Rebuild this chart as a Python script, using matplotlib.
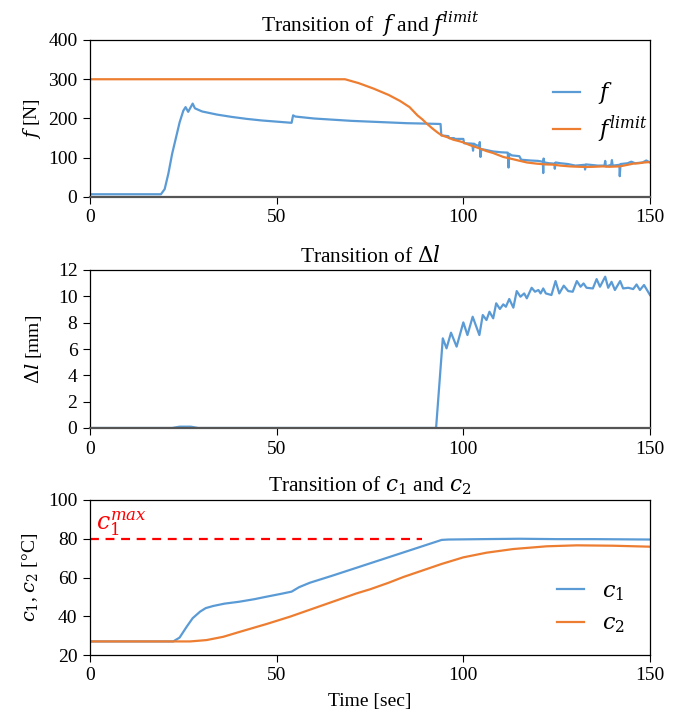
import matplotlib
matplotlib.use("Agg")
import matplotlib.pyplot as plt

plt.rcParams['font.family'] = ['Liberation Serif', 'DejaVu Serif']
plt.rcParams['mathtext.fontset'] = 'dejavuserif'

blue = '#5B9BD5'
orange = '#ED7D31'

# --- force f and its limit [N] ---
f_t = [0, 19, 20, 21, 22, 23, 24, 25, 25.6, 26.3, 27.5, 28.1, 30, 34, 38, 42, 46, 50, 54,
       54.4, 55, 60, 65, 70, 75, 80, 85, 90, 93.9, 94.1, 96, 96.2, 97.5, 97.7, 100, 100.2,
       102.4, 102.6, 102.8, 103.5, 104.3, 104.4, 104.6, 104.8, 106, 108, 110, 111.9, 112.1,
       112.3, 113, 115, 115.5, 118, 120, 121.3, 121.4, 121.5, 121.7, 123, 124.4, 124.5,
       124.7, 126, 128, 130, 132.5, 132.6, 132.8, 134, 136, 137.8, 138, 138.2, 139.6, 139.8,
       140, 141.8, 141.9, 142.1, 144, 145, 146, 148, 149, 150]
f_val = [7, 7, 20, 60, 110, 150, 190, 220, 229, 217, 238, 226, 218, 210, 204, 199, 195, 192, 189,
         208, 205, 200, 197, 194, 192, 190, 188, 187, 186, 157, 155, 150, 150, 148, 148, 137,
         136, 118, 136, 132, 130, 140, 102, 122, 120, 116, 114, 113, 75,
         110, 106, 104, 95, 93, 92, 90, 61, 98, 88, 86, 85, 72,
         88, 86, 84, 80, 82, 70, 83, 82, 80, 80, 92, 78, 82, 94,
         80, 82, 53, 84, 86, 90, 86, 88, 93, 88]

flim_t = [0, 68.3, 72, 76, 80, 83, 85.6, 87.7, 89, 90.2, 91.8, 93, 94.2, 95.8, 97.3, 99, 100,
          101.8, 104, 106.2, 108, 110.7, 113, 115.2, 117, 119.6, 122, 124, 126, 128.5, 131, 133,
          135, 137.4, 139, 141.9, 144, 145.5, 147, 148.5, 150]
flim_val = [300, 300, 290, 276, 260, 245, 229, 208, 198, 187, 174, 165, 157, 152, 146, 142, 139,
            132, 125, 117, 112, 102, 97, 92, 88, 85, 83, 82.5, 80, 78, 77, 76.5,
            77, 78, 77, 78, 82, 85, 86, 88, 89]

# --- elongation dl [mm] ---
dl_t = [0, 22, 24, 27, 29, 92.7, 94.5, 95.5, 96.7, 98.2, 100.0, 101.1, 102.5, 104.3, 105.2,
        106.2, 107.0, 108.0, 108.8, 109.8, 110.7, 111.4, 112.3, 113.4, 114.3, 115.3, 116.3,
        117.0, 118.3, 119.2, 120.1, 120.7, 121.4, 122.1, 123.6, 124.7, 125.7, 126.9, 128.1,
        129.3, 130.4, 131.4, 132.2, 133.0, 134.7, 135.7, 136.6, 138.0, 138.8, 139.7, 140.6,
        142.0, 142.8, 144.2, 145.5, 146.4, 147.3, 148.4, 150]
dl_val = [0, 0, 0.1, 0.1, 0, 0, 6.81, 6.05, 7.24, 6.18, 8.02, 7.06, 8.45, 7.06, 8.58,
          8.2, 8.83, 8.33, 9.47, 9.04, 9.39, 9.21, 9.8, 9.14, 10.4, 9.97, 10.22,
          9.85, 10.65, 10.35, 10.48, 10.22, 10.6, 10.22, 10.1, 11.16, 10.22, 10.81, 10.4,
          10.35, 11.16, 10.73, 10.98, 10.65, 10.6, 11.31, 10.73, 11.49, 10.65, 11.1, 10.48,
          11.16, 10.6, 10.65, 10.55, 10.9, 10.48, 10.86, 10.1]

# --- temperatures c1, c2 [degC] ---
c1_t = [0, 22.3, 24, 25.9, 27.5, 29.5, 31, 33, 36, 40, 44, 47.3, 51, 54, 56, 58.9, 65, 75,
        85, 94.2, 96, 105, 115, 125, 135, 150]
c1_val = [27, 27, 29, 34.6, 39, 42.4, 44.2, 45.3, 46.5, 47.5, 48.8, 50.1, 51.5, 52.7, 55,
          57.3, 61, 67.3, 73.6, 79.4, 79.6, 79.8, 80, 79.8, 79.8, 79.6]
c2_t = [0, 26.8, 31.2, 35.7, 40.2, 47.3, 53.6, 62.5, 71.4, 75, 80, 84, 94.2, 100, 106.2,
        113.4, 122.3, 130.4, 140.2, 150]
c2_val = [27, 27, 27.7, 29.4, 32, 36, 39.8, 45.8, 51.8, 53.9, 57.3, 60.3, 67, 70.4, 72.8,
          74.7, 76.1, 76.6, 76.4, 75.9]

c1max_t = [0, 89]
c1max_val = [80, 80]

fig = plt.figure(figsize=(6.94, 7.23), dpi=100)
left, width = 90 / 694, 560 / 694
ax1 = fig.add_axes([left, 1 - 197 / 723, width, 157 / 723])
ax2 = fig.add_axes([left, 1 - 428 / 723, width, 158 / 723])
ax3 = fig.add_axes([left, 1 - 655 / 723, width, 155 / 723])

for ax in (ax1, ax2, ax3):
    ax.set_xlim(0, 150)
    ax.set_xticks([0, 50, 100, 150])
    ax.tick_params(labelsize=14, direction='out', length=5, width=0.8, pad=4)
    for s in ax.spines.values():
        s.set_linewidth(0.9)

ax1.plot(f_t, f_val, color=blue, lw=1.6, label='$f$')
ax1.plot(flim_t, flim_val, color=orange, lw=1.6, label='$f^{limit}$')
ax1.set_ylim(0, 400)
ax1.set_yticks([0, 100, 200, 300, 400])
ax1.set_ylabel('$f$ [N]', fontsize=14, labelpad=4)
ax1.set_title('Transition of  $f$ and $f^{limit}$', fontsize=15.5, pad=6)
ax1.legend(loc='upper right', bbox_to_anchor=(1.03, 0.87), frameon=False, fontsize=16,
           handlelength=1.2, labelspacing=0.3)
ax1.spines['bottom'].set_color('#555555')
ax1.spines['bottom'].set_linewidth(1.6)

ax2.plot(dl_t, dl_val, color=blue, lw=1.6)
ax2.set_ylim(0, 12)
ax2.set_yticks(range(0, 13, 2))
ax2.set_ylabel(r'$\Delta l$ [mm]', fontsize=14, labelpad=10)
ax2.set_title(r'Transition of $\Delta l$', fontsize=15.5, pad=6)
ax2.spines['bottom'].set_color('#555555')
ax2.spines['bottom'].set_linewidth(1.6)

ax3.plot(c1max_t, c1max_val, color='#FF0000', lw=1.6, dashes=(4, 3))
ax3.text(1.5, 85, '$c_1^{max}$', color='#FF0000', fontsize=17)
ax3.plot(c1_t, c1_val, color=blue, lw=1.6, label='$c_1$')
ax3.plot(c2_t, c2_val, color=orange, lw=1.6, label='$c_2$')
ax3.set_ylim(20, 100)
ax3.set_yticks(range(20, 101, 20))
ax3.set_ylabel('$c_1$, $c_2$ [°C]', fontsize=14, labelpad=6)
ax3.set_title('Transition of $c_1$ and $c_2$', fontsize=15.5, pad=6)
ax3.set_xlabel('Time [sec]', fontsize=14, labelpad=6)
ax3.legend(loc='lower right', bbox_to_anchor=(0.99, 0.0), frameon=False, fontsize=16,
           handlelength=1.2, labelspacing=0.5)

fig.savefig('out.png', dpi=100)
